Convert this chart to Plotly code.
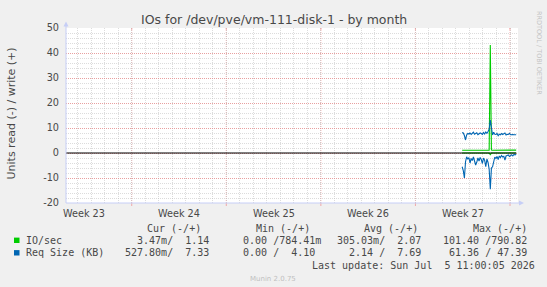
import plotly.graph_objects as go
import pandas as pd

# ---------------- data ----------------
times = pd.date_range("2026-07-01 11:00", "2026-07-05 11:00", freq="2h")  # 49 points

io_write = [1.12, 1.10, 1.14, 1.08, 1.12, 1.10, 1.13, 1.11, 1.12, 1.10, 1.14, 1.12, 1.11,
            1.13, 1.10, 1.12, 1.11, 1.13, 1.12, 1.10, 1.12, 1.11, 1.13, 1.12, 1.15, 43.2,
            1.20, 1.12, 1.11, 1.13, 1.12, 1.10, 1.12, 1.11, 1.13, 1.12, 1.11, 1.13, 1.12,
            1.10, 1.12, 1.11, 1.13, 1.12, 1.11, 1.13, 1.12, 1.13, 1.14]
io_read = [0.01, 0.00, 0.01, 0.02, 0.00, 0.01, 0.00, 0.01, 0.00, 0.01, 0.00, 0.01, 0.00,
           0.01, 0.00, 0.01, 0.00, 0.01, 0.00, 0.01, 0.00, 0.01, 0.00, 0.01, 0.05, 0.60,
           0.02, 0.01, 0.00, 0.01, 0.00, 0.01, 0.00, 0.01, 0.00, 0.01, 0.00, 0.01, 0.00,
           0.01, 0.00, 0.01, 0.00, 0.01, 0.00, 0.01, 0.00, 0.00, 0.00]
req_write = [8.2, 8.0, 7.0, 5.2, 7.2, 7.8, 7.6, 8.0, 7.4, 7.9, 8.3, 7.5, 7.7,
             8.1, 7.3, 7.6, 8.0, 7.8, 7.4, 8.2, 7.6, 8.4, 7.9, 8.6, 9.5, 13.2,
             9.0, 7.2, 8.3, 7.5, 7.4, 7.8, 6.9, 7.5, 7.3, 7.8, 7.4, 7.6, 8.0,
             7.2, 7.5, 7.4, 7.9, 7.3, 7.5, 7.4, 7.3, 7.4, 7.33]
req_read = [5.5, 7.0, 10.0, 3.5, 1.5, 2.5, 1.8, 4.0, 2.2, 3.0, 1.6, 2.8, 4.8,
            3.6, 2.0, 3.2, 1.8, 2.6, 4.2, 2.0, 3.0, 5.5, 2.4, 3.8, 6.5, 14.5,
            6.0, 5.5, 3.0, 1.6, 2.2, 1.4, 2.6, 1.2, 1.8, 1.0, 1.6, 1.3, 2.8,
            1.2, 1.0, 0.8, 1.4, 0.9, 0.7, 1.2, 0.6, 0.8, 0.53]

week_starts = pd.date_range("2026-06-07", "2026-07-05", freq="7D")
week_mids = week_starts - pd.Timedelta(hours=84)
week_labels = ["Week 23", "Week 24", "Week 25", "Week 26", "Week 27"]
x_range = [pd.Timestamp("2026-06-02 03:15"), pd.Timestamp("2026-07-05 14:13")]

y_ticks = [-20, -10, 0, 10, 20, 30, 40, 50]
y_labels = ["-20", "-10", "0", "10", "20", "30", "40", "50"]

title = "IOs for /dev/pve/vm-111-disk-1 - by month"
y_title = "Units read (-) / write (+)"
series_names = ["IO/sec", "Req Size (KB)"]
series_colors = ["#00CC00", "#0066B3"]
legend_headers = ["Cur (-/+)", "Min (-/+)", "Avg (-/+)", "Max (-/+)"]
io_stats = [("3.47", "m", "1.14", ""), ("0.00", "", "784.41", "m"),
            ("305.03", "m", "2.07", ""), ("101.40", "", "790.82", "")]
req_stats = [("527.80", "m", "7.33", ""), ("0.00", "", "4.10", ""),
             ("2.14", "", "7.69", ""), ("61.36", "", "47.39", "")]
last_update = "Last update: Sun Jul  5 11:00:05 2026"
munin_ver = "Munin 2.0.75"
watermark = "RRDTOOL / TOBI OETIKER"

# ---------------- layout geometry ----------------
W, H = 547, 287
PL, PR, PT, PB = 66, 518, 28, 203
FONT = "DejaVu Sans"
MONO = "DejaVu Sans Mono"
TXT = "#484848"
GRID = "rgba(191,191,191,0.55)"
MGRID = "rgba(240,120,120,0.6)"
AXIS = "#C6CEF6"


def px(x):
    return (x - PL) / (PR - PL)


def py(y):
    return (PB - y) / (PB - PT)


fig = go.Figure()

neg = lambda arr: [-v for v in arr]
fig.add_trace(go.Scatter(x=times, y=neg(io_read), mode="lines",
                         line=dict(color=series_colors[0], width=1.1), showlegend=False))
fig.add_trace(go.Scatter(x=times, y=io_write, mode="lines",
                         line=dict(color=series_colors[0], width=1.1), showlegend=False))
fig.add_trace(go.Scatter(x=times, y=neg(req_read), mode="lines",
                         line=dict(color=series_colors[1], width=1.1), showlegend=False))
fig.add_trace(go.Scatter(x=times, y=req_write, mode="lines",
                         line=dict(color=series_colors[1], width=1.1), showlegend=False))

shapes = []
# major (week) grid lines, dotted red, with small solid ticks
for ws in week_starts:
    shapes.append(dict(type="line", xref="x", yref="paper", x0=ws, x1=ws, y0=0, y1=1,
                       line=dict(color=MGRID, width=1, dash="1px,1px"), layer="below"))
    shapes.append(dict(type="line", xref="x", yref="paper", x0=ws, x1=ws, y0=py(PB + 3), y1=0,
                       line=dict(color=MGRID, width=1), layer="below"))
    shapes.append(dict(type="line", xref="x", yref="paper", x0=ws, x1=ws, y0=1, y1=py(PT + 2),
                       line=dict(color=MGRID, width=1), layer="below"))
# zero rule
shapes.append(dict(type="line", xref="x", yref="y", x0=x_range[0], x1=times[-1], y0=0, y1=0,
                   line=dict(color="black", width=1.2), layer="above"))
# axes with arrows
ax_top = 21.5
ax_right = 524
shapes.append(dict(type="line", xref="paper", yref="paper", x0=0, x1=0, y0=0, y1=py(ax_top + 3),
                   line=dict(color=AXIS, width=1), layer="above"))
shapes.append(dict(type="line", xref="paper", yref="paper", x0=0, x1=px(ax_right - 3), y0=0, y1=0,
                   line=dict(color=AXIS, width=1), layer="above"))
shapes.append(dict(type="path", xref="paper", yref="paper",
                   path=f"M {px(PL-2.5)} {py(ax_top+5)} L {px(PL+2.5)} {py(ax_top+5)} L {px(PL)} {py(ax_top)} Z",
                   fillcolor=AXIS, line=dict(width=0), layer="above"))
shapes.append(dict(type="path", xref="paper", yref="paper",
                   path=f"M {px(ax_right-5)} {py(PB-2.5)} L {px(ax_right-5)} {py(PB+2.5)} L {px(ax_right)} {py(PB)} Z",
                   fillcolor=AXIS, line=dict(width=0), layer="above"))

annotations = []
annotations.append(dict(text=title, xref="paper", yref="paper", x=px(273.5), y=py(19),
                        xanchor="center", yanchor="middle", showarrow=False,
                        font=dict(family=FONT, size=12.5, color=TXT)))
annotations.append(dict(text=y_title, xref="paper", yref="paper", x=px(10.5), y=py(114),
                        xanchor="center", yanchor="middle", showarrow=False, textangle=-90,
                        font=dict(family=FONT, size=11, color=TXT)))
annotations.append(dict(text=watermark, xref="paper", yref="paper", x=px(539), y=py(53),
                        xanchor="center", yanchor="middle", showarrow=False, textangle=90,
                        font=dict(family=FONT, size=6.5, color="#C4C4C4")))
annotations.append(dict(text=munin_ver, xref="paper", yref="paper", x=px(273), y=py(278.5),
                        xanchor="center", yanchor="middle", showarrow=False,
                        font=dict(family=FONT, size=7, color="#C0C0C0")))
# week labels at the middle of each week
for wm, wl in zip(week_mids, week_labels):
    annotations.append(dict(text=wl, xref="x", yref="paper", x=wm, y=py(213.3),
                            xanchor="center", yanchor="middle", showarrow=False,
                            font=dict(family=FONT, size=9.7, color=TXT)))


def mono(txt, x, y):
    annotations.append(dict(text=txt.replace(" ", "\u00a0"), xref="paper", yref="paper",
                            x=px(x), y=py(y), xanchor="left", yanchor="middle", showarrow=False,
                            borderpad=0, borderwidth=0,
                            font=dict(family=MONO, size=10, color=TXT)))


def fmt(num, suf):
    return f"{num:>6}{suf if suf else ' '}"


header_x = [146.6, 255.8, 364.0, 472.8]
col_x = [124.9, 231.2, 336.8, 443.2]
row_y = [240.4, 252.9]
for hx, h in zip(header_x, legend_headers):
    mono(h, hx, 228.8)
for ry, name, stats, col in zip(row_y, series_names, [io_stats, req_stats], series_colors):
    shapes.append(dict(type="rect", xref="paper", yref="paper", x0=px(14), x1=px(19.5),
                       y0=py(ry - 2.8), y1=py(ry + 2.6), fillcolor=col, line=dict(width=0)))
    mono(name, 26.2, ry)
    for cx, (a, sa, b, sb) in zip(col_x, stats):
        mono(f"{fmt(a, sa)}/{fmt(b, sb)}", cx, ry)
mono(last_update, 311.6, 265.5)

fig.update_layout(
    width=W, height=H,
    margin=dict(l=PL, r=W - PR, t=PT, b=H - PB, pad=0),
    paper_bgcolor="#F0F0F0", plot_bgcolor="#FFFFFF",
    showlegend=False,
    shapes=shapes, annotations=annotations,
    xaxis=dict(type="date", range=x_range, tickmode="linear", tick0="2026-06-07",
               dtick=86400000, showgrid=True, gridcolor=GRID, griddash="1px,1px", gridwidth=1,
               showticklabels=False, ticks="", zeroline=False, showline=False, fixedrange=True),
    yaxis=dict(range=[-20, 50], tickmode="array", tickvals=y_ticks, ticktext=y_labels,
               showgrid=True, gridcolor=MGRID, griddash="1px,1px", zeroline=False, showline=False,
               ticks="", ticklabelstandoff=6,
               minor=dict(dtick=2, tick0=0, showgrid=True, gridcolor=GRID, griddash="1px,1px"),
               tickfont=dict(family=FONT, size=9.7, color=TXT), fixedrange=True),
)

fig.write_html("out.html")
